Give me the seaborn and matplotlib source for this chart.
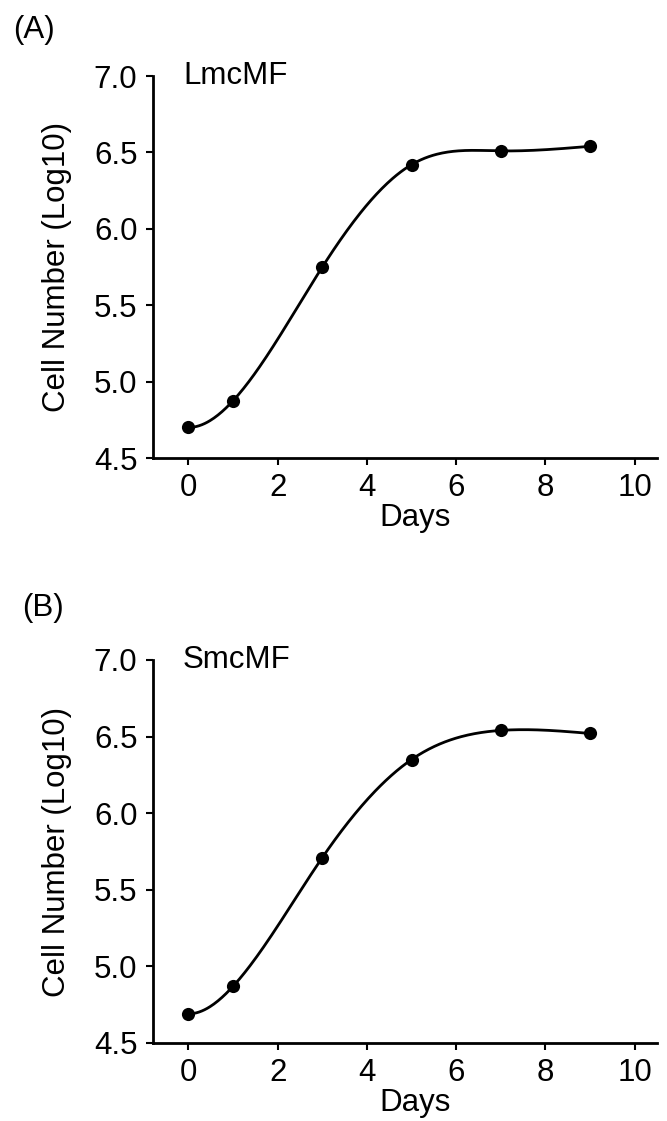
import numpy as np
import pandas as pd
import matplotlib
matplotlib.use("Agg")
import matplotlib.pyplot as plt
import seaborn as sns

# ── Data ────────────────────────────────────────────────────────────────────
days = [0, 1, 3, 5, 7, 9]
lmcmf_log10 = [4.70, 4.875, 5.75, 6.42, 6.51, 6.54]
smcmf_log10 = [4.69, 4.87, 5.71, 6.35, 6.54, 6.52]

panel_letters = ["(A)", "(B)"]
strain_names = ["LmcMF", "SmcMF"]
x_ticks = [0, 2, 4, 6, 8, 10]
y_ticks = [4.5, 5.0, 5.5, 6.0, 6.5, 7.0]


def smooth_curve(x, y, n=300):
    # cubic spline through the points: flat start, natural end
    x = np.asarray(x, float)
    y = np.asarray(y, float)
    h = np.diff(x)
    m = len(x)
    A = np.zeros((m, m))
    b = np.zeros(m)
    A[0, 0], A[0, 1] = 2 * h[0], h[0]
    b[0] = 6 * ((y[1] - y[0]) / h[0])
    A[-1, -1] = 1.0
    for i in range(1, m - 1):
        A[i, i - 1] = h[i - 1]
        A[i, i] = 2 * (h[i - 1] + h[i])
        A[i, i + 1] = h[i]
        b[i] = 6 * ((y[i + 1] - y[i]) / h[i] - (y[i] - y[i - 1]) / h[i - 1])
    M = np.linalg.solve(A, b)
    xs = np.linspace(x[0], x[-1], n)
    k = np.clip(np.searchsorted(x, xs) - 1, 0, m - 2)
    t0 = x[k + 1] - xs
    t1 = xs - x[k]
    hk = h[k]
    ys = (M[k] * t0**3 / (6 * hk) + M[k + 1] * t1**3 / (6 * hk)
          + (y[k] / hk - M[k] * hk / 6) * t0
          + (y[k + 1] / hk - M[k + 1] * hk / 6) * t1)
    return xs, ys


sns.set_theme(style="ticks")
plt.rcParams["font.family"] = ["Liberation Sans", "DejaVu Sans"]
plt.rcParams["text.color"] = "black"
FS = 22.5

fig = plt.figure(figsize=(6.67, 11.21), dpi=100)
ax_a = fig.add_axes([0.229, 0.5914, 0.756, 0.3408])
ax_b = fig.add_axes([0.229, 0.0696, 0.756, 0.3417])

for ax, vals, name in zip([ax_a, ax_b], [lmcmf_log10, smcmf_log10], strain_names):
    xs, ys = smooth_curve(days, vals)
    sns.lineplot(x=xs, y=ys, ax=ax, color="black", linewidth=2, sort=False)
    sns.scatterplot(x=days, y=vals, ax=ax, color="black", s=90,
                    edgecolor="black", linewidth=0, zorder=3)

    ax.set_xlim(-0.8, 10.5)
    ax.set_ylim(4.5, 7.0)
    ax.set_xticks(x_ticks)
    ax.set_yticks(y_ticks)
    ax.set_yticklabels([f"{v:.1f}" for v in y_ticks])
    ax.tick_params(axis="both", direction="out", length=5, width=1.5,
                   labelsize=FS, colors="black")
    ax.tick_params(axis="y", pad=6)
    ax.tick_params(axis="x", pad=6)
    for side in ["top", "right"]:
        ax.spines[side].set_visible(False)
    for side in ["left", "bottom"]:
        ax.spines[side].set_linewidth(2)
        ax.spines[side].set_color("black")

    ax.set_xlabel("Days", fontsize=FS, color="black")
    ax.set_ylabel("Cell Number (Log10)", fontsize=FS, color="black")
    ax.xaxis.set_label_coords(0.52, -0.117)
    ax.yaxis.set_label_coords(-0.16, 0.5)

    ax.text(0.06, 1.0, name, transform=ax.transAxes, fontsize=FS,
            ha="left", va="center")

fig.text(13 / 667, 1 - 30 / 1121, panel_letters[0], fontsize=FS,
         ha="left", va="center")
fig.text(22 / 667, 1 - 608 / 1121, panel_letters[1], fontsize=FS,
         ha="left", va="center")

fig.savefig("out.png", dpi=100, facecolor="white")
